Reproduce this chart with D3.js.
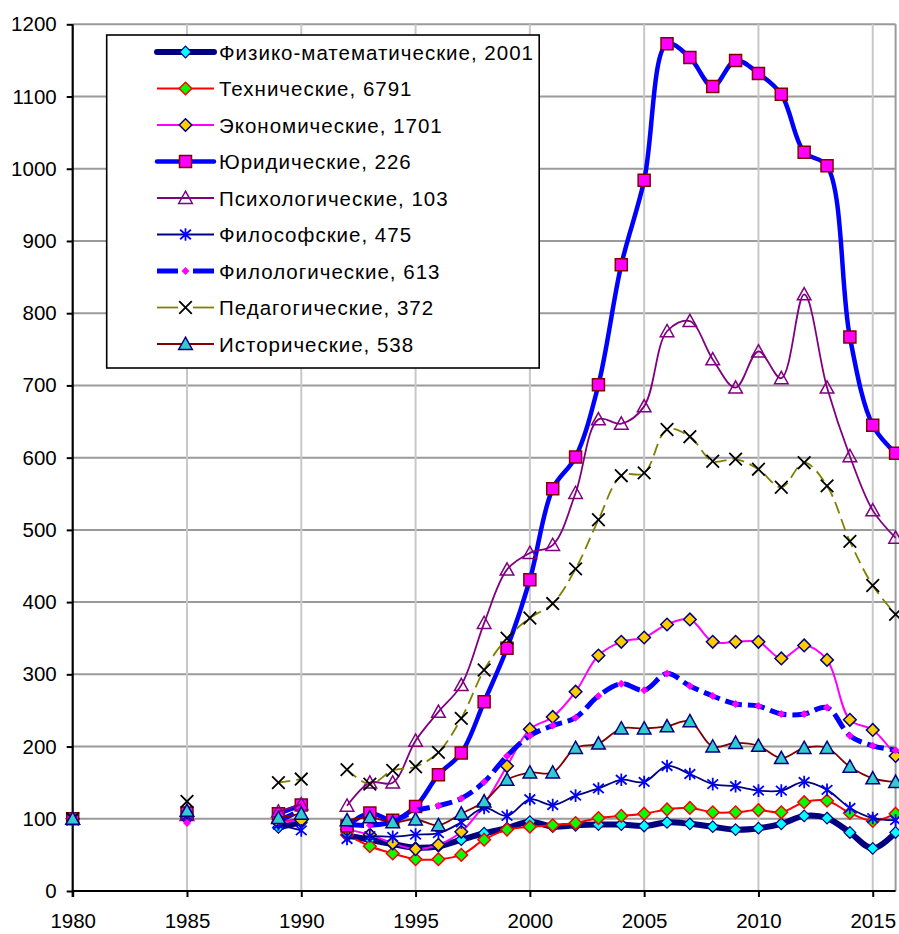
<!DOCTYPE html>
<html><head><meta charset="utf-8">
<script src="https://cdn.jsdelivr.net/npm/d3@7"></script>
<style>body{margin:0;background:#fff}svg{display:block}</style>
</head><body><svg id="c" width="899" height="934"></svg>
<script>
const years = [1980,1985,1989,1990,1992,1993,1994,1995,1996,1997,1998,1999,2000,2001,2002,2003,2004,2005,2006,2007,2008,2009,2010,2011,2012,2013,2014,2015,2016];
const seriesNames = ["Физико-математические, 2001","Технические, 6791","Экономические, 1701","Юридические, 226","Психологические, 103","Философские, 475","Филологические, 613","Педагогические, 372","Исторические, 538"];
const physMath  = [100,100,88,95,77,71,65,60,62,71,80,87,96,89,91,92,92,90,95,93,89,85,87,93,104,101,81,59,81];
const technical = [100,102,96,100,78,62,52,44,44,50,71,85,89,91,94,101,104,107,113,115,109,109,112,109,123,125,108,97,107];
const economic  = [100,104,95,98,85,78,66,58,64,82,120,173,224,241,276,326,345,351,369,376,345,345,345,322,340,320,237,223,187];
const law       = [100,108,107,119,90,108,98,117,161,191,262,336,431,557,601,701,867,984,1173,1154,1114,1150,1132,1103,1023,1004,767,645,606];
const psych     = [100,105,110,120,118,150,150,208,248,285,371,445,468,479,551,653,647,671,775,789,736,697,747,710,826,697,602,527,489];
const philos    = [100,104,92,84,72,76,75,78,80,95,115,104,127,119,132,142,154,151,173,162,148,145,139,139,151,140,115,101,98];
const philology = [100,94,97,112,92,91,96,111,118,128,151,187,215,229,240,270,287,278,301,284,270,259,256,245,245,254,215,201,195];
const pedag     = [100,124,150,155,168,148,167,172,192,239,306,350,378,398,446,514,575,579,639,629,595,598,584,559,593,561,484,423,383];
const history   = [100,111,101,107,98,102,95,99,91,107,124,154,164,164,198,204,225,225,228,235,200,205,201,184,198,198,172,156,151];
const yTicks = [0,100,200,300,400,500,600,700,800,900,1000,1100,1200];
const xTicks = [1980,1985,1990,1995,2000,2005,2010,2015];

const valuesList = [physMath,technical,economic,law,psych,philos,philology,pedag,history];
const styles = [
  {line:"#000080", w:6,   dash:null,    marker:"diamond", ms:5.8, fill:"#00ffff", stroke:"#000080", sw:1.2},
  {line:"#ff0000", w:2,   dash:null,    marker:"diamond", ms:6.3, fill:"#00ff00", stroke:"#ff0000", sw:1.5},
  {line:"#ff00ff", w:2,   dash:null,    marker:"diamond", ms:6.3, fill:"#ffcc00", stroke:"#000080", sw:1.5},
  {line:"#0000ff", w:4.5, dash:null,    marker:"square",  ms:6,   fill:"#ff00ff", stroke:"#800000", sw:1.5},
  {line:"#800080", w:1.8, dash:null,    marker:"triangle",ms:6.8, fill:"none",    stroke:"#800080", sw:1.5},
  {line:"#000080", w:1.8, dash:null,    marker:"star",    ms:6.3, fill:"none",    stroke:"#0000ff", sw:1.8},
  {line:"#0000ff", w:5,   dash:"17,6",  marker:"diamond", ms:4,   fill:"#ff00ff", stroke:"none",    sw:0},
  {line:"#808000", w:1.8, dash:"12,6",  marker:"x",       ms:6.3, fill:"none",    stroke:"#000000", sw:1.8},
  {line:"#800000", w:1.8, dash:null,    marker:"triangle",ms:6.8, fill:"#33cccc", stroke:"#000080", sw:1.5}
];

const svg = d3.select("#c");
const L = 72.7, R = 895.6, T = 24.3, B = 891;
const x = d3.scaleLinear().domain([1980,2016]).range([L,R]);
const y = d3.scaleLinear().domain([0,1200]).range([B,T]);
const font = "Liberation Sans, Arial, sans-serif";

// gridlines
const g = svg.append("g");
g.selectAll(".hg").data(yTicks.filter(d=>d>0)).enter().append("line")
  .attr("x1",L).attr("x2",R).attr("y1",d=>y(d)).attr("y2",d=>y(d))
  .attr("stroke","#9a9a9a").attr("stroke-width",2);
g.selectAll(".vg").data(xTicks.filter(d=>d>1980)).enter().append("line")
  .attr("x1",d=>x(d)).attr("x2",d=>x(d)).attr("y1",T).attr("y2",B)
  .attr("stroke","#c8c8c8").attr("stroke-width",2);
g.append("line").attr("x1",R).attr("x2",R).attr("y1",T).attr("y2",B).attr("stroke","#9a9a9a").attr("stroke-width",2);

// axes
const yAxis = d3.axisLeft(y).tickValues(yTicks).tickSize(6).tickPadding(10).tickFormat(d3.format("d"));
const ya = svg.append("g").attr("transform",`translate(${L},0)`).call(yAxis);
const xAxis = d3.axisBottom(x).tickValues(xTicks).tickSize(6).tickPadding(16).tickFormat(d3.format("d"));
const xa = svg.append("g").attr("transform",`translate(0,${B})`).call(xAxis);
[ya,xa].forEach(a=>{
  a.select(".domain").attr("stroke","#000").attr("stroke-width",2.2);
  a.selectAll(".tick line").attr("stroke","#000").attr("stroke-width",2);
  a.selectAll("text").attr("font-family",font).attr("font-size",20.5).attr("fill","#000");
});
ya.select(".domain").attr("d",`M0,${B+6}V${T}`);
xa.select(".domain").attr("d",`M${L},0H${R}`);

function markerPath(type, s){
  switch(type){
    case "diamond": return `M0,${-s}L${s},0L0,${s}L${-s},0Z`;
    case "square": return `M${-s},${-s}H${s}V${s}H${-s}Z`;
    case "triangle": return `M0,${-s}L${s},${s*0.8}L${-s},${s*0.8}Z`;
    case "star": return `M0,${-s}V${s}M${-s*0.85},${-s*0.75}L${s*0.85},${s*0.75}M${s*0.85},${-s*0.75}L${-s*0.85},${s*0.75}`;
    case "x": return `M${-s},${-s}L${s},${s}M${s},${-s}L${-s},${s}`;
  }
}

const line = d3.line().x(d=>x(d.yr)).y(d=>y(d.v)).curve(d3.curveCatmullRom.alpha(0.5));
valuesList.forEach((vals,i)=>{
  const st = styles[i];
  const pts = years.map((yr,j)=>({yr, v:vals[j]}));
  const segs = []; let cur = [pts[0]];
  for(let j=1;j<pts.length;j++){
    if(pts[j].yr - pts[j-1].yr === 1) cur.push(pts[j]); else { segs.push(cur); cur=[pts[j]]; }
  }
  segs.push(cur);
  const sg = svg.append("g");
  segs.filter(s=>s.length>1).forEach(s=>{
    sg.append("path").attr("d",line(s)).attr("fill","none").attr("stroke",st.line)
      .attr("stroke-width",st.w).attr("stroke-dasharray",st.dash).attr("stroke-linejoin","round");
  });
  sg.selectAll(".m").data(pts).enter().append("path")
    .attr("transform",d=>`translate(${x(d.yr)},${y(d.v)})`)
    .attr("d",markerPath(st.marker, st.ms))
    .attr("fill",st.fill).attr("stroke",st.stroke).attr("stroke-width",st.sw);
});

// legend
const lg = svg.append("g");
lg.append("rect").attr("x",106.7).attr("y",35).attr("width",432.5).attr("height",333)
  .attr("fill","#fff").attr("stroke","#000").attr("stroke-width",1.6);
seriesNames.forEach((name,i)=>{
  const st = styles[i];
  const cy = 52 + i*36.5;
  if(st.dash){
    lg.append("line").attr("x1",157).attr("x2",178).attr("y1",cy).attr("y2",cy).attr("stroke",st.line).attr("stroke-width",st.w);
    lg.append("line").attr("x1",193).attr("x2",214).attr("y1",cy).attr("y2",cy).attr("stroke",st.line).attr("stroke-width",st.w);
  } else {
    lg.append("line").attr("x1",157).attr("x2",214).attr("y1",cy).attr("y2",cy).attr("stroke",st.line).attr("stroke-width",st.w).attr("stroke-linecap",st.w>3?"round":"butt");
  }
  lg.append("path").attr("transform",`translate(185.5,${cy})`).attr("d",markerPath(st.marker, st.ms))
    .attr("fill",st.fill).attr("stroke",st.stroke).attr("stroke-width",st.sw);
  lg.append("text").attr("x",219).attr("y",cy+7.5).attr("font-family",font).attr("font-size",20.5)
    .attr("letter-spacing",1.0).attr("fill","#000").text(name);
});
</script></body></html>
